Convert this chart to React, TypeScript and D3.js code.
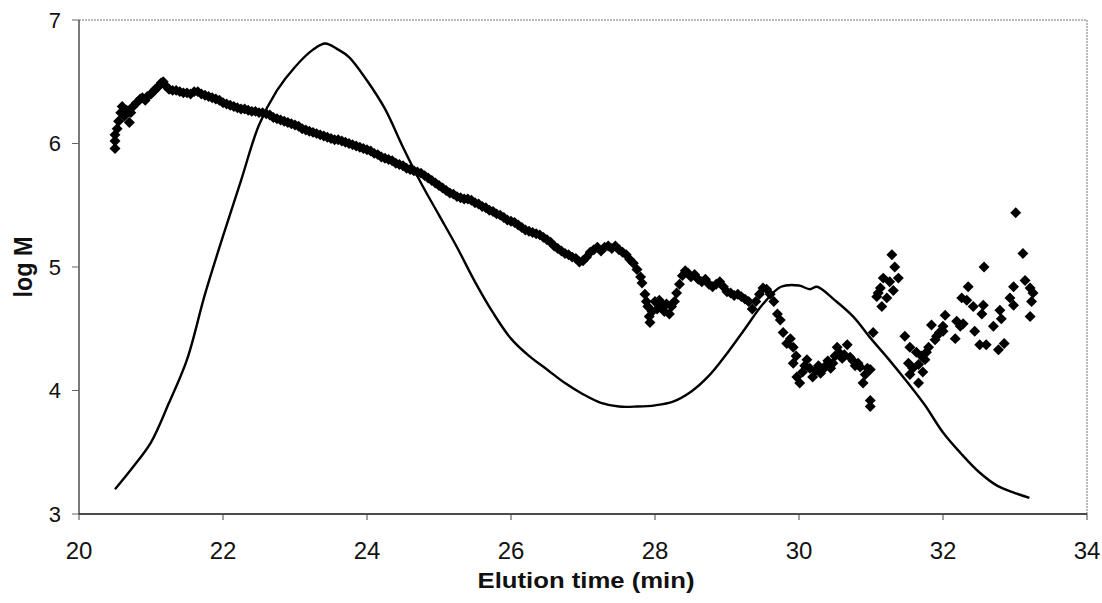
import React from 'react'
import * as d3 from 'd3'

// detector trace (solid line): [elution time, log M scale]
const traceData: [number, number][] = [
  [20.5, 3.2], [20.75, 3.38], [21.0, 3.58], [21.25, 3.9], [21.5, 4.25], [21.75, 4.78],
  [22.0, 5.25], [22.25, 5.7], [22.5, 6.15], [22.75, 6.43], [23.0, 6.62], [23.25, 6.76],
  [23.42, 6.81], [23.6, 6.76], [23.75, 6.7], [24.0, 6.51], [24.25, 6.28], [24.5, 5.97],
  [24.75, 5.68], [25.0, 5.42], [25.25, 5.16], [25.5, 4.88], [25.75, 4.63], [26.0, 4.42],
  [26.25, 4.28], [26.5, 4.17], [26.75, 4.06], [27.0, 3.97], [27.25, 3.9], [27.5, 3.87],
  [27.75, 3.87], [28.0, 3.88], [28.25, 3.91], [28.5, 3.99], [28.75, 4.12], [29.0, 4.3],
  [29.25, 4.5], [29.5, 4.7], [29.75, 4.84], [30.0, 4.85], [30.15, 4.82], [30.25, 4.84],
  [30.5, 4.73], [30.75, 4.6], [31.0, 4.42], [31.25, 4.25], [31.5, 4.07], [31.75, 3.88],
  [32.0, 3.66], [32.25, 3.49], [32.5, 3.34], [32.75, 3.23], [33.0, 3.17], [33.2, 3.13],
]

// log M points (diamonds)
const logMData: [number, number][] = [
  [20.5, 5.96], [20.5, 6.02], [20.5, 6.07], [20.53, 6.12], [20.55, 6.18], [20.58, 6.25],
  [20.6, 6.3], [20.63, 6.22], [20.66, 6.27], [20.7, 6.17], [20.72, 6.25], [20.75, 6.3],
  [20.8, 6.33], [20.85, 6.36], [20.88, 6.37], [20.92, 6.35], [20.95, 6.38], [21.0, 6.4],
  [21.03, 6.42], [21.06, 6.44], [21.1, 6.46], [21.14, 6.49], [21.17, 6.5], [21.2, 6.47],
  [21.25, 6.44], [21.3, 6.43], [21.35, 6.43], [21.4, 6.42], [21.45, 6.41], [21.5, 6.41],
  [21.55, 6.4], [21.6, 6.42], [21.65, 6.42], [21.7, 6.4], [21.75, 6.39], [21.8, 6.38],
  [21.85, 6.37], [21.9, 6.36], [21.95, 6.35], [22.0, 6.33], [22.05, 6.32], [22.1, 6.31],
  [22.15, 6.3], [22.2, 6.29], [22.25, 6.28], [22.3, 6.28], [22.35, 6.27], [22.4, 6.26],
  [22.45, 6.26], [22.5, 6.25], [22.55, 6.25], [22.6, 6.24], [22.65, 6.23], [22.7, 6.21],
  [22.75, 6.2], [22.8, 6.19], [22.85, 6.18], [22.9, 6.17], [22.95, 6.16], [23.0, 6.15],
  [23.05, 6.14], [23.1, 6.12], [23.15, 6.11], [23.2, 6.1], [23.25, 6.09], [23.3, 6.08],
  [23.35, 6.07], [23.4, 6.06], [23.45, 6.05], [23.5, 6.04], [23.55, 6.03], [23.6, 6.03],
  [23.65, 6.02], [23.7, 6.01], [23.75, 6.0], [23.8, 5.99], [23.85, 5.98], [23.9, 5.97],
  [23.95, 5.96], [24.0, 5.95], [24.05, 5.94], [24.1, 5.92], [24.15, 5.91], [24.2, 5.89],
  [24.25, 5.88], [24.3, 5.87], [24.35, 5.86], [24.4, 5.84], [24.45, 5.83], [24.5, 5.82],
  [24.55, 5.8], [24.6, 5.79], [24.65, 5.78], [24.7, 5.77], [24.75, 5.76], [24.8, 5.74],
  [24.85, 5.72], [24.9, 5.7], [24.95, 5.68], [25.0, 5.66], [25.05, 5.64], [25.1, 5.62],
  [25.15, 5.6], [25.2, 5.59], [25.25, 5.57], [25.3, 5.56], [25.35, 5.55], [25.4, 5.55],
  [25.45, 5.54], [25.5, 5.52], [25.55, 5.51], [25.6, 5.49], [25.65, 5.48], [25.7, 5.46],
  [25.75, 5.45], [25.8, 5.43], [25.85, 5.42], [25.9, 5.4], [25.95, 5.38], [26.0, 5.37],
  [26.05, 5.36], [26.1, 5.34], [26.15, 5.32], [26.2, 5.3], [26.25, 5.29], [26.3, 5.28],
  [26.35, 5.27], [26.4, 5.26], [26.45, 5.24], [26.5, 5.22], [26.55, 5.2], [26.6, 5.17],
  [26.65, 5.15], [26.7, 5.13], [26.75, 5.11], [26.8, 5.1], [26.85, 5.08], [26.9, 5.07],
  [26.95, 5.04], [27.0, 5.05], [27.05, 5.08], [27.1, 5.12], [27.15, 5.14], [27.2, 5.16],
  [27.25, 5.13], [27.3, 5.16], [27.35, 5.17], [27.4, 5.15], [27.45, 5.17], [27.5, 5.14],
  [27.55, 5.12], [27.6, 5.1], [27.65, 5.06], [27.7, 5.03], [27.75, 4.98], [27.8, 4.92],
  [27.82, 4.87], [27.86, 4.78], [27.88, 4.72], [27.9, 4.68], [27.92, 4.6], [27.93, 4.55],
  [27.96, 4.64], [28.0, 4.72], [28.03, 4.66], [28.06, 4.73], [28.1, 4.69], [28.13, 4.64],
  [28.16, 4.7], [28.2, 4.62], [28.23, 4.68], [28.27, 4.72], [28.3, 4.79], [28.34, 4.86],
  [28.38, 4.93], [28.42, 4.97], [28.46, 4.95], [28.5, 4.92], [28.55, 4.94], [28.6, 4.9],
  [28.65, 4.88], [28.7, 4.9], [28.75, 4.86], [28.8, 4.84], [28.85, 4.86], [28.9, 4.88],
  [28.95, 4.84], [29.0, 4.8], [29.05, 4.79], [29.1, 4.77], [29.15, 4.78], [29.2, 4.76],
  [29.25, 4.74], [29.3, 4.72], [29.35, 4.66], [29.4, 4.72], [29.45, 4.78], [29.5, 4.83],
  [29.55, 4.82], [29.6, 4.78], [29.65, 4.72], [29.7, 4.62],
  [29.74, 4.57], [29.78, 4.47], [29.83, 4.38], [29.88, 4.42], [29.92, 4.35], [29.92, 4.22],
  [29.96, 4.28], [29.97, 4.11], [30.01, 4.06], [30.05, 4.15], [30.08, 4.2], [30.11, 4.25],
  [30.15, 4.18], [30.19, 4.11], [30.23, 4.16], [30.27, 4.2], [30.3, 4.14], [30.33, 4.17],
  [30.37, 4.2], [30.4, 4.24], [30.44, 4.18], [30.47, 4.22], [30.5, 4.28], [30.53, 4.35],
  [30.57, 4.3], [30.6, 4.26], [30.63, 4.29], [30.67, 4.37], [30.71, 4.27], [30.75, 4.24],
  [30.78, 4.2], [30.82, 4.22], [30.85, 4.19], [30.89, 4.06], [30.92, 4.13], [30.95, 4.18],
  [30.99, 4.17], [30.99, 3.92], [30.99, 3.87],
  [31.03, 4.47], [31.08, 4.76], [31.1, 4.79], [31.13, 4.83], [31.15, 4.68], [31.17, 4.91],
  [31.22, 4.75], [31.26, 4.88], [31.29, 5.1], [31.31, 4.81], [31.33, 5.0], [31.38, 4.91],
  [31.47, 4.44], [31.54, 4.35], [31.52, 4.22], [31.54, 4.13], [31.58, 4.18], [31.63, 4.31],
  [31.66, 4.21], [31.66, 4.06], [31.7, 4.28], [31.72, 4.15], [31.75, 4.25], [31.77, 4.31],
  [31.8, 4.35], [31.84, 4.53], [31.89, 4.41], [31.91, 4.44], [31.95, 4.47], [32.0, 4.48],
  [32.0, 4.52], [32.03, 4.61], [32.17, 4.42], [32.19, 4.56], [32.24, 4.52], [32.28, 4.54],
  [32.26, 4.75], [32.33, 4.73], [32.35, 4.84], [32.42, 4.68], [32.44, 4.48], [32.51, 4.37],
  [32.54, 4.62], [32.56, 4.69], [32.57, 5.0], [32.6, 4.37], [32.7, 4.52], [32.77, 4.33],
  [32.79, 4.65], [32.81, 4.58], [32.85, 4.38], [32.93, 4.75], [32.98, 4.69], [32.98, 4.84],
  [33.01, 5.44], [33.11, 5.11], [33.14, 4.89], [33.21, 4.83], [33.25, 4.79], [33.23, 4.72],
  [33.21, 4.6],
]

const xTicks = [20, 22, 24, 26, 28, 30, 32, 34]
const yTicks = [3, 4, 5, 6, 7]

const W = 1102
const H = 603
const font = '"Liberation Sans", Arial, sans-serif'

export default function App() {
  const x = d3.scaleLinear().domain([20, 34]).range([79, 1087])
  const y = d3.scaleLinear().domain([3, 7]).range([514, 20])

  const line = d3.line<[number, number]>()
    .x(d => x(d[0]))
    .y(d => y(d[1]))
    .curve(d3.curveCatmullRom.alpha(0.5))

  const diamond = d3.symbol().type(d3.symbolSquare).size(60)()

  return (
    <svg width={W} height={H} style={{ position: 'absolute', left: 0, top: 0, background: '#fff' }}>
      {/* frame */}
      <line x1={79} x2={1087} y1={20} y2={20} stroke="#777" strokeWidth={1} strokeDasharray="2,1" />
      <line x1={1087} x2={1087} y1={20} y2={514} stroke="#777" strokeWidth={1} strokeDasharray="2,1" />
      <line x1={79} x2={79} y1={20} y2={514} stroke="#222" strokeWidth={1.2} />
      <line x1={79} x2={1087} y1={514} y2={514} stroke="#111" strokeWidth={1.5} />

      {/* y axis */}
      {yTicks.map(t => (
        <g key={'y' + t}>
          <line x1={72} x2={79} y1={y(t)} y2={y(t)} stroke="#666" strokeWidth={1} />
          <text x={61} y={y(t)} dy="0.36em" textAnchor="end" fontFamily={font} fontSize={22} fill="#111">{t}</text>
        </g>
      ))}

      {/* x axis */}
      {xTicks.map(t => (
        <g key={'x' + t}>
          <line x1={x(t)} x2={x(t)} y1={514} y2={520} stroke="#444" strokeWidth={1} />
          <text x={x(t)} y={559} textAnchor="middle" fontFamily={font} fontSize={24} fill="#111">{t}</text>
        </g>
      ))}

      <text x={586} y={588} textAnchor="middle" fontFamily={font} fontSize={22} fontWeight="bold"
        textLength={217} lengthAdjust="spacingAndGlyphs" fill="#111">Elution time (min)</text>
      <text transform="translate(32,267) rotate(-90)" textAnchor="middle" fontFamily={font} fontSize={25}
        fontWeight="bold" textLength={61} lengthAdjust="spacingAndGlyphs" fill="#111">log M</text>

      {/* trace */}
      <path d={line(traceData) || ''} fill="none" stroke="#000" strokeWidth={2.4} strokeLinejoin="round" />

      {/* log M markers */}
      {logMData.map((d, i) => (
        <path key={i} d={diamond || ''} fill="#000"
          transform={`translate(${x(d[0])},${y(d[1])}) rotate(45)`} />
      ))}
    </svg>
  )
}
